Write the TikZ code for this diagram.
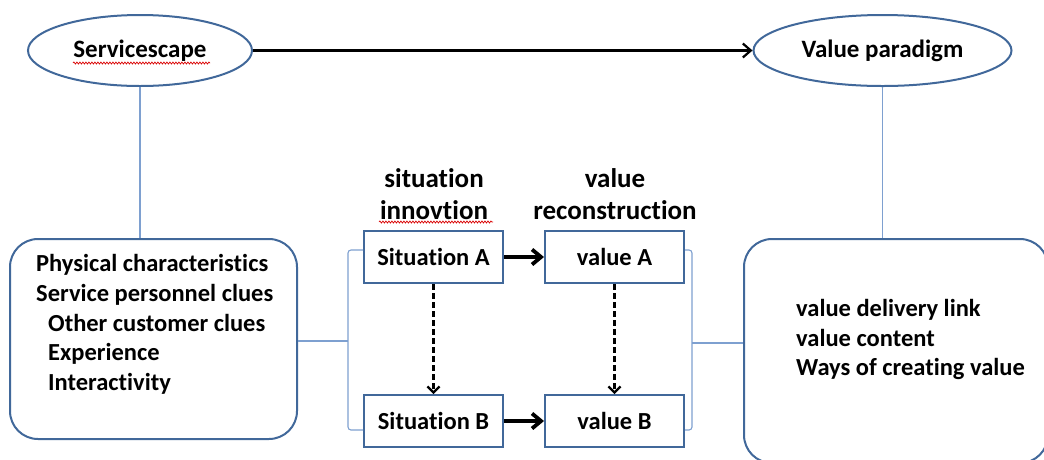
\documentclass[tikz,border=0pt]{standalone}
\usepackage{fontspec}
\setmainfont{Carlito}[Ligatures=NoCommon]
\usetikzlibrary{arrows.meta,shapes.geometric,decorations.pathmorphing}
\definecolor{outline}{HTML}{41689A}
\definecolor{linkblue}{HTML}{7EA0D0}
\begin{document}
\begin{tikzpicture}[x=1pt,y=-1pt,
  oval/.style={ellipse,draw=outline,line width=2pt,minimum width=224pt,minimum height=71pt,inner sep=0pt,font=\fontsize{25}{28}\selectfont\bfseries},
  rbox/.style={draw=outline,line width=2pt,rounded corners=28pt,inner sep=0pt},
  sbox/.style={draw=outline,line width=2pt,minimum width=139pt,minimum height=52pt,inner sep=0pt,font=\fontsize{24.5}{28}\selectfont\bfseries},
  link/.style={draw=linkblue,line width=1.1pt},
  bracket/.style={draw=linkblue,line width=1.1pt,rounded corners=3pt},
  toparrow/.style={draw=black,line width=2.2pt,-{Straight Barb[length=8pt,width=14pt]}},
  flow/.style={draw=black,line width=3.8pt,-{Straight Barb[length=9pt,width=15pt]}},
  changearrow/.style={draw=black,line width=2.2pt,dashed,dash pattern=on 6pt off 3pt,-{Straight Barb[length=6pt,width=12pt]}},
  listtext/.style={anchor=west,align=left,inner sep=0pt,font=\fontsize{24.5}{29.7}\selectfont\bfseries},
  header/.style={align=center,inner sep=0pt,font=\fontsize{27}{32}\selectfont\bfseries},
  squiggle/.style={draw=red!85!black,line width=0.7pt,decorate,decoration={snake,amplitude=1pt,segment length=3pt}}]
\useasboundingbox (0,0) rectangle (1044,459);
\clip (0,0) rectangle (1044,459);

% top ovals and the arrow between them
\node[oval] (svc) at (140,50.5) {Servicescape};
\node[oval,minimum width=258pt] (vp) at (882.5,50.5) {Value paradigm};
\draw[toparrow] (svc) -- (vp);

% side boxes
\node[rbox,minimum width=287pt,minimum height=200pt] (left) at (153.5,339) {};
\node[rbox,minimum width=304pt,minimum height=224pt] (right) at (896,351) {};
\draw[link] (svc.south) -- (svc.south |- left.north);
\draw[link] (vp.south) -- (vp.south |- right.north);

\node[listtext] (ltext) at (36,324.5) {Physical characteristics\\Service personnel clues\\\hspace*{12pt}Other customer clues\\\hspace*{12pt}Experience\\\hspace*{12pt}Interactivity};
\node[listtext] (rtext) at (796,339.5) {value delivery link\\value content\\Ways of creating value};

% column headers
\node[header] (hdra) at (434,194) {situation\\innovtion};
\node[header] (hdrb) at (615,194) {value\\reconstruction};

% central boxes
\node[sbox] (sa) at (433.5,257) {Situation A};
\node[sbox] (va) at (614.5,257) {value A};
\node[sbox] (sb) at (433.5,421) {Situation B};
\node[sbox] (vb) at (614.5,421) {value B};

\draw[flow] (sa) -- (va);
\draw[flow] (sb) -- (vb);
\draw[changearrow] (sa) -- (sb);
\draw[changearrow] (va) -- (vb);

% brackets joining the central boxes to the side boxes
\coordinate (lbt) at (348,250);
\coordinate (lbb) at (348,430);
\coordinate (lbm) at (348,341);
\coordinate (rbt) at (692,250);
\coordinate (rbb) at (692,430);
\coordinate (rbm) at (692,343);
\draw[bracket] (sa.west |- lbt) -- (lbt) -- (lbb) -- (sb.west |- lbb);
\draw[bracket] (va.east |- rbt) -- (rbt) -- (rbb) -- (vb.east |- rbb);
\draw[link] (left.east |- lbm) -- (lbm);
\draw[link] (rbm) -- (right.west |- rbm);

% spelling marks under two words
\draw[squiggle] (73,63) -- (210,63);
\draw[squiggle] (379,222) -- (493,222);
\end{tikzpicture}
\end{document}
